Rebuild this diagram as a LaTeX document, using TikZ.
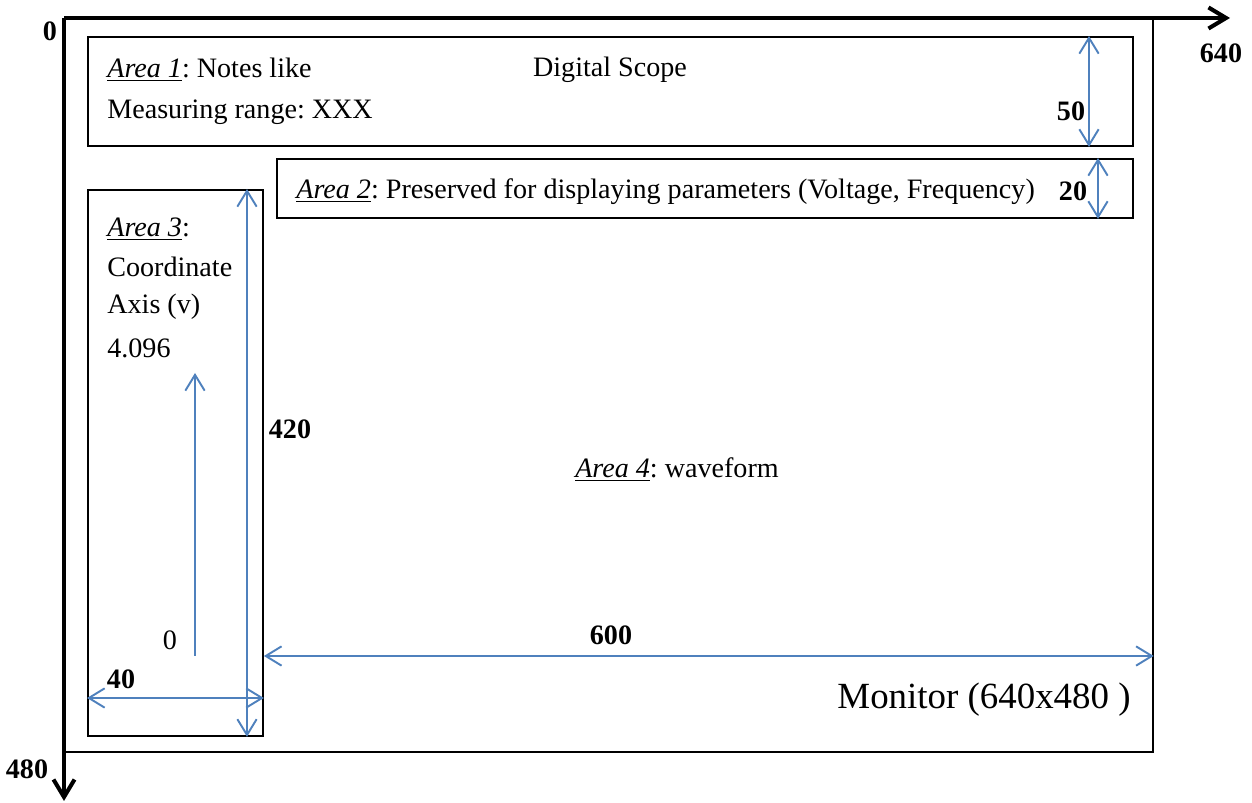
\documentclass[tikz,border=0pt]{standalone}
\usepackage{fontspec}
\setmainfont{Liberation Serif}
\usetikzlibrary{arrows.meta}
\definecolor{dimblue}{RGB}{79,129,189}
\frenchspacing

\begin{document}
\begin{tikzpicture}[x=0.02cm, y=-0.02cm,
    font=\fontsize{16}{19}\selectfont,
    box/.style={draw, line width=1.1pt, anchor=north west, inner sep=0pt},
    barb/.tip={Straight Barb[length=9pt, width=11pt]},
    dim/.style={draw=dimblue, line width=1.1pt, barb-barb},
    txt/.style={anchor=west, inner sep=0pt},
    num/.style={font=\fontsize{16}{19}\selectfont\bfseries, inner sep=0pt}]

    \useasboundingbox (0,0) rectangle (1252,803);

    % Screen axes
    \coordinate (origin) at (64,18);
    \coordinate (xend) at (1230,18);
    \coordinate (yend) at (64,801);

    % Monitor and its four areas
    \node[box, minimum width=21.76cm, minimum height=14.66cm] (monitor) at (origin) {};
    \node[box, minimum width=20.9cm, minimum height=2.18cm] (area1) at (87,36) {};
    \node[box, minimum width=17.12cm, minimum height=1.18cm] (area2) at (276,158) {};
    \node[box, minimum width=3.5cm, minimum height=10.92cm] (area3) at (87,189) {};

    \draw[line width=2.3pt, -{Straight Barb[length=10pt, width=12pt]}] (origin) -- (xend);
    \draw[line width=2.3pt, -{Straight Barb[length=10pt, width=12pt]}] (origin) -- (yend);

    \node[num] (zero) at (50,31) {0};
    \node[num] (xmax) at (1221,53) {640};
    \node[num] (ymax) at (27,769) {480};

    % Dimension lines
    \coordinate (d50) at (1089,0);
    \coordinate (d20) at (1098,0);
    \coordinate (d420) at (247,0);
    \coordinate (d40) at (0,698);
    \coordinate (d600) at (0,656);

    \draw[dim] (area1.north -| d50) -- (area1.south -| d50);
    \draw[dim] (area2.north -| d20) -- (area2.south -| d20);
    \draw[dim] (area3.north -| d420) -- (area3.south -| d420);
    \draw[dim] (area3.west |- d40) -- (area3.east |- d40);
    \draw[dim] (area3.east |- d600) -- (monitor.east |- d600);

    \node[num] (len50) at (1071,111) {50};
    \node[num] (len20) at (1073,191) {20};
    \node[num] (len420) at (290,429) {420};
    \node[num] (len40) at (121,679) {40};
    \node[num] (len600) at (611,635) {600};

    % Voltage axis inside area 3
    \coordinate (vlow) at (195,656);
    \coordinate (vhigh) at (195,373);
    \draw[dimblue, line width=1.1pt, -barb] (vlow) -- (vhigh);

    % Texts
    \node[txt] (notes) at (107,70) {\underline{\textit{Area 1}}: Notes like};
    \node[txt] (range) at (107,112) {Measuring range: XXX};
    \node[inner sep=0pt] (title) at (610,70) {Digital Scope};
    \node[txt] (params) at (296,192) {\underline{\textit{Area 2}}: Preserved for displaying parameters (Voltage, Frequency)};
    \node[txt] (a3head) at (107,229) {\underline{\textit{Area 3}}:};
    \node[txt] (a3coord) at (107,267) {Coordinate};
    \node[txt] (a3axis) at (107,307) {Axis (v)};
    \node[txt] (vtop) at (107,348) {4.096};
    \node[inner sep=0pt] (vzero) at (170,640) {0};
    \node[inner sep=0pt] (wave) at (677,470) {\underline{\textit{Area 4}}: waveform};
    \node[inner sep=0pt, font=\fontsize{21}{25}\selectfont] (mon) at (984,700) {Monitor (640x480 )};

\end{tikzpicture}
\end{document}
